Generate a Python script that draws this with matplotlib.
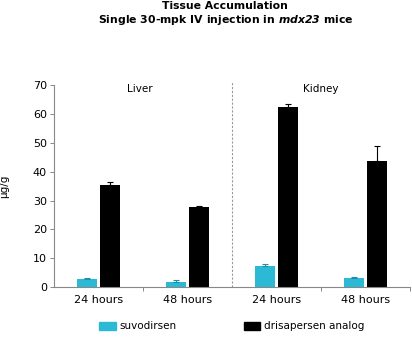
import numpy as np
import matplotlib
matplotlib.use('Agg')
import matplotlib.pyplot as plt
from matplotlib.patches import Patch

# tissue accumulation, ug/g
tissues = ['Liver', 'Kidney']
timepoints = ['24 hours', '48 hours', '24 hours', '48 hours']
suvodirsen = [2.8, 1.8, 7.4, 3.2]
suvodirsen_err = [0.2, 0.8, 0.6, 0.3]
drisapersen = [35.4, 27.7, 62.3, 43.9]
drisapersen_err = [0.9, 0.4, 1.2, 4.9]

cyan = '#2bb9d6'
grey = '#888888'

plt.rcParams['font.family'] = ['DejaVu Sans']

fig = plt.figure(figsize=(4.12, 3.46), dpi=100)
ax = fig.add_axes([0.131, 0.1705, 0.864, 0.583])

x = np.arange(len(timepoints)) + 0.5
width = 0.22
off = 0.13

ax.bar(x - off, suvodirsen, width, color=cyan,
       yerr=[np.zeros(4), suvodirsen_err],
       error_kw=dict(ecolor='#1d8fa8', elinewidth=0.8, capsize=2.5, capthick=0.8))
ax.bar(x + off, drisapersen, width, color='black',
       yerr=[np.zeros(4), drisapersen_err],
       error_kw=dict(ecolor='black', elinewidth=0.8, capsize=2.5, capthick=0.8))

# divider between liver and kidney
ax.plot([2, 2], [0, 71.5], color='#999999', linestyle=(0, (2, 1.5)),
        linewidth=0.8, clip_on=False)

ax.set_xlim(0, 4)
ax.set_ylim(0, 70)
ax.set_yticks(np.arange(0, 71, 10))
ax.set_xticks(x)
ax.set_xticklabels(timepoints, fontsize=8)
ax.set_xticks([1, 3, 4], minor=True)
ax.tick_params(axis='x', which='major', length=0, pad=6)
ax.tick_params(axis='x', which='minor', length=3, color=grey, width=0.7)
ax.tick_params(axis='y', labelsize=8, length=3, color=grey, width=0.7, pad=2)

for s in ['top', 'right']:
    ax.spines[s].set_visible(False)
for s in ['left', 'bottom']:
    ax.spines[s].set_color(grey)
    ax.spines[s].set_linewidth(0.8)

ax.set_ylabel('μg/g', fontsize=7.5, labelpad=17)

ax.text(0.96, 68.8, tissues[0], ha='center', va='center', fontsize=7.5)
ax.text(3.0, 68.8, tissues[1], ha='center', va='center', fontsize=7.5)

fig.text(0.547, 0.997, 'Tissue Accumulation', ha='center', va='top',
         fontsize=7.8, fontweight='bold')
fig.text(0.547, 0.962, 'Single 30-mpk IV injection in $\\mathbfit{mdx23}$ mice',
         ha='center', va='top', fontsize=7.8, fontweight='bold')

handles = [Patch(color=cyan, label='suvodirsen'),
           Patch(color='black', label='drisapersen analog')]
fig.legend(handles=handles, loc='lower center', bbox_to_anchor=(0.563, 0.015),
           ncol=2, frameon=False, fontsize=7.5, columnspacing=6.4,
           handlelength=1.6, handleheight=0.9, handletextpad=0.4)

fig.savefig('out.png', dpi=100)
